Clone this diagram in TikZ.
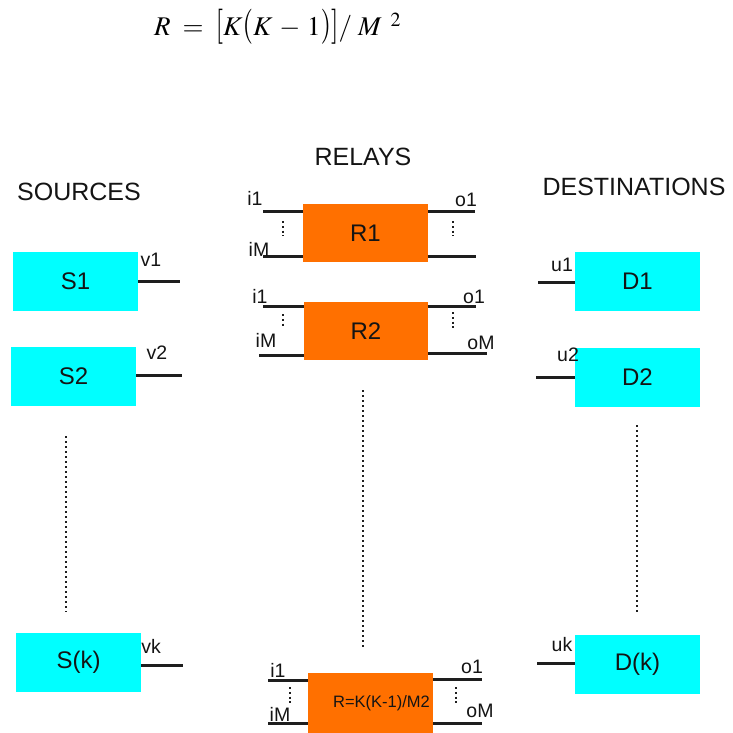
\documentclass[tikz,border=0pt]{standalone}
\usepackage{mathptmx}
\usepackage{graphicx}
\usepackage{fontspec}
\setmainfont{Liberation Sans}
\usetikzlibrary{calc}
\definecolor{boxcyan}{RGB}{0,255,255}
\definecolor{relayor}{RGB}{255,112,0}
\definecolor{portgray}{RGB}{30,30,30}
\definecolor{textgray}{RGB}{20,20,20}
\newcommand\tallbr[1]{\mathopen{\scalebox{1}[1.3]{$#1$}}}
\newcommand\tallbc[1]{\mathclose{\scalebox{1}[1.3]{$#1$}}}
\begin{document}
\begin{tikzpicture}[x=1pt,y=-1pt,
  src/.style={draw=none,fill=boxcyan,minimum width=125pt,minimum height=59pt,inner sep=0pt,text=textgray,font=\fontsize{24}{28}\selectfont},
  relay/.style={draw=none,fill=relayor,minimum width=125pt,minimum height=58pt,inner sep=0pt,text=textgray,font=\fontsize{24}{28}\selectfont},
  port/.style={line width=3pt,draw=portgray},
  lbl/.style={inner sep=0pt,text=textgray,font=\fontsize{19.5}{22}\selectfont},
  head/.style={inner sep=0pt,text=textgray,font=\fontsize{25}{30}\selectfont},
  longdots/.style={line width=2.4pt,draw=portgray,dash pattern=on 1.8pt off 3.2pt},
  portdots/.style={line width=2.2pt,draw=portgray,dash pattern=on 2.2pt off 2.6pt}
]
\useasboundingbox (0,0) rectangle (732,733);

% formula
\node[inner sep=0pt,anchor=base west,font=\fontsize{27}{32}\selectfont] (formula) at (154,36)
  {$R\;=\;\tallbr{[}K\tallbr{(}K\,-\,1\tallbc{)}\tallbc{]}/\;M^{\;\;2}$};

% headings
\node[head] (hsrc) at (79,192) {SOURCES};
\node[head] (hrel) at (363,157) {RELAYS};
\node[head] (hdst) at (634,187) {DESTINATIONS};

% sources
\node[src] (S1) at (75.5,281.5) {S1};
\node[src] (S2) at (73.5,376.5) {S2};
\node[src] (Sk) at (78.5,662.5) {S(k)};

% destinations
\node[src] (D1) at (637.5,281.5) {D1};
\node[src] (D2) at (637.5,377.5) {D2};
\node[src] (Dk) at (637.5,664) {D(k)};

% relays
\node[relay] (R1) at (365.5,233) {R1};
\node[relay,minimum width=124pt] (R2) at (366,331) {R2};
\node[relay,minimum height=60pt,font=\fontsize{16.5}{20}\selectfont] (R3) at (370.5,703) {\hspace*{22pt}R=K(K-1)/M2};

% source ports
\draw[port] (S1.east) -- ++(42,0) coordinate (v1e);
\draw[port] ($(S2.east)+(0,-1.5)$) -- ++(46,0) coordinate (v2e);
\draw[port] ($(Sk.east)+(0,2.5)$) -- ++(42,0) coordinate (vke);
% destination ports
\draw[port] ($(D1.west)+(0,0.5)$) -- ++(-37,0) coordinate (u1e);
\draw[port] ($(D2.west)+(0,-0.5)$) -- ++(-39,0) coordinate (u2e);
\draw[port] ($(Dk.west)+(0,-1)$) -- ++(-38,0) coordinate (uke);

% relay ports R1
\draw[port] ($(R1.north west)+(0,8)$) -- ++(-40,0) coordinate (r1i1);
\draw[port] ($(R1.south west)+(0,-6)$) -- ++(-40,0) coordinate (r1iM);
\draw[port] ($(R1.north east)+(0,8)$) -- ++(47,0) coordinate (r1o1);
\draw[port] ($(R1.south east)+(0,-6)$) -- ++(48,0) coordinate (r1oM);
% relay ports R2
\draw[port] ($(R2.north west)+(0,5)$) -- ++(-41,0) coordinate (r2i1);
\draw[port] ($(R2.south west)+(0,-5)$) -- ++(-45,0) coordinate (r2iM);
\draw[port] ($(R2.north east)+(0,5)$) -- ++(48,0) coordinate (r2o1);
\draw[port] ($(R2.south east)+(0,-7)$) -- ++(59,0) coordinate (r2oM);
% relay ports R3
\draw[port] ($(R3.north west)+(0,8)$) -- ++(-40,0) coordinate (r3i1);
\draw[port] ($(R3.south west)+(0,-10)$) -- ++(-40,0) coordinate (r3iM);
\draw[port] ($(R3.north east)+(0,7)$) -- ++(49,0) coordinate (r3o1);
\draw[port] ($(R3.south east)+(0,-10)$) -- ++(49,0) coordinate (r3oM);

% port dots
\draw[portdots] (283,221) -- (283,236);
\draw[portdots] (453,221) -- (453,236);
\draw[portdots] (283,314) -- (283,328);
\draw[portdots] (453,312) -- (453,328);
\draw[portdots] (290,687) -- (290,703);
\draw[portdots] (456,687) -- (456,703);

% long dotted lines
\draw[longdots] (66,436) -- (66,612);
\draw[longdots] (363,390) -- (363,647);
\draw[longdots] (637,425) -- (637,612);

% port labels
\node[lbl] (lv1) at (151,260) {v1};
\node[lbl] (lv2) at (157,353) {v2};
\node[lbl] (lvk) at (151,646) {vk};
\node[lbl] (lu1) at (562,265) {u1};
\node[lbl] (lu2) at (568,355) {u2};
\node[lbl] (luk) at (562,645) {uk};

\node[lbl] (l1i1) at (255,198) {i1};
\node[lbl] (l1iM) at (259,249) {iM};
\node[lbl] (l1o1) at (466,200) {o1};
\node[lbl] (l2i1) at (260,296) {i1};
\node[lbl] (l2iM) at (266,340) {iM};
\node[lbl] (l2o1) at (474,297) {o1};
\node[lbl] (l2oM) at (481,343) {oM};
\node[lbl] (l3i1) at (278,670) {i1};
\node[lbl] (l3iM) at (280,714) {iM};
\node[lbl] (l3o1) at (472,667) {o1};
\node[lbl] (l3oM) at (480,711) {oM};
\end{tikzpicture}
\end{document}
